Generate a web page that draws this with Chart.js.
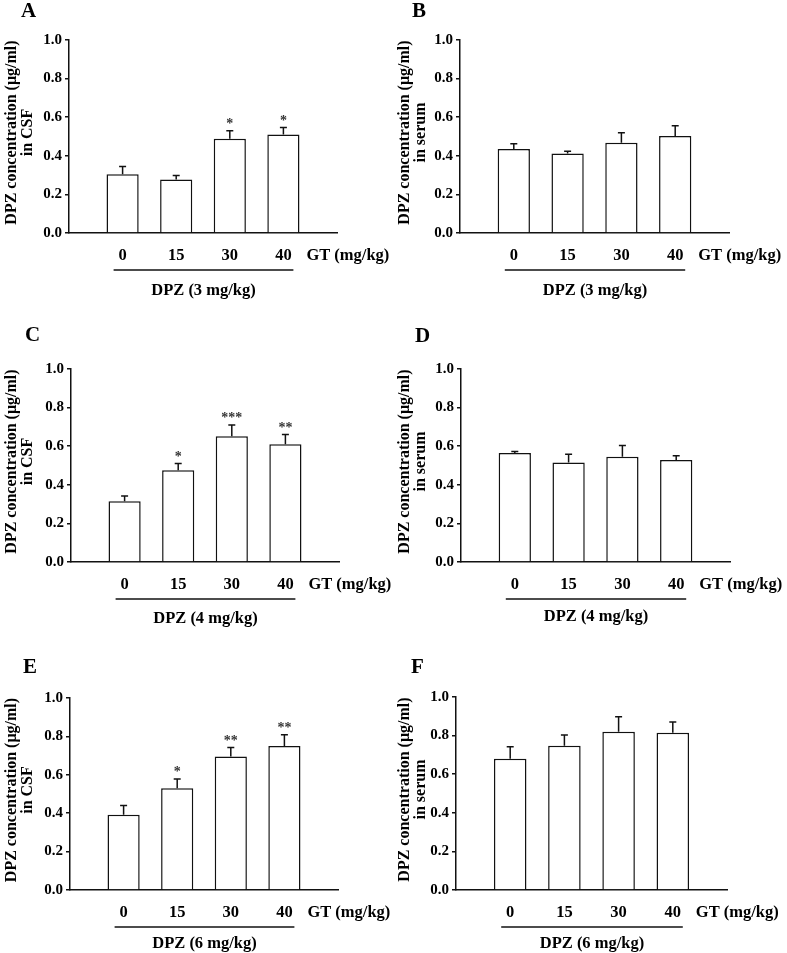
<!DOCTYPE html>
<html>
<head>
<meta charset="utf-8">
<title>DPZ concentration</title>
<script src="https://cdn.jsdelivr.net/npm/chart.js@4.4.1/dist/chart.umd.min.js"></script>
<style>
  body { margin: 0; background: #fff; }
  #fig { position: relative; width: 787px; height: 953px; overflow: hidden; }
  #fig canvas { position: absolute; }
</style>
</head>
<body>
<div id="fig">
  <canvas id="cA" width="393" height="310" style="left:0;top:0"></canvas>
  <canvas id="cB" width="394" height="310" style="left:393px;top:0"></canvas>
  <canvas id="cC" width="393" height="320" style="left:0;top:310px"></canvas>
  <canvas id="cD" width="394" height="320" style="left:393px;top:310px"></canvas>
  <canvas id="cE" width="393" height="323" style="left:0;top:630px"></canvas>
  <canvas id="cF" width="394" height="323" style="left:393px;top:630px"></canvas>
</div>
<script>
// Datos (media + error, µg/ml)
const gtDoses = ['0', '15', '30', '40'];
const yTicks = [0, 0.2, 0.4, 0.6, 0.8, 1.0];

const csf3 = [0.305, 0.277, 0.488, 0.511];
const csf3Err = [0.040, 0.021, 0.042, 0.035];
const csf3Stars = ['', '', '*', '*'];

const serum3 = [0.435, 0.412, 0.468, 0.502];
const serum3Err = [0.027, 0.011, 0.052, 0.054];

const csf4 = [0.315, 0.475, 0.652, 0.610];
const csf4Err = [0.027, 0.035, 0.058, 0.050];
const csf4Stars = ['', '*', '***', '**'];

const serum4 = [0.565, 0.515, 0.545, 0.528];
const serum4Err = [0.007, 0.043, 0.059, 0.022];

const csf6 = [0.392, 0.530, 0.695, 0.750];
const csf6Err = [0.048, 0.048, 0.047, 0.058];
const csf6Stars = ['', '*', '**', '**'];

const serum6 = [0.680, 0.748, 0.820, 0.815];
const serum6Err = [0.062, 0.055, 0.078, 0.055];

const noStars = ['', '', '', ''];

const FONT = '"Liberation Serif", "Times New Roman", serif';
const INK = '#111';

// Paneles: datos + caja del área de dibujo (en px del canvas)
const panels = [
  { id: 'cA', letter: 'A', letterPos: [21, 17], values: csf3, errors: csf3Err, stars: csf3Stars,
    fluid: 'in CSF', dose: 'DPZ (3 mg/kg)', doseGap: 58, area: { left: 69, right: 337, top: 40, bottom: 233 } },
  { id: 'cB', letter: 'B', letterPos: [19, 17], values: serum3, errors: serum3Err, stars: noStars,
    fluid: 'in serum', dose: 'DPZ (3 mg/kg)', doseGap: 58, area: { left: 67, right: 336, top: 40, bottom: 233 } },
  { id: 'cC', letter: 'C', letterPos: [25, 31], values: csf4, errors: csf4Err, stars: csf4Stars,
    fluid: 'in CSF', dose: 'DPZ (4 mg/kg)', doseGap: 57, area: { left: 71, right: 339, top: 59, bottom: 252 } },
  { id: 'cD', letter: 'D', letterPos: [22, 32], values: serum4, errors: serum4Err, stars: noStars,
    fluid: 'in serum', dose: 'DPZ (4 mg/kg)', doseGap: 55, area: { left: 68, right: 337, top: 59, bottom: 252 } },
  { id: 'cE', letter: 'E', letterPos: [23, 43], values: csf6, errors: csf6Err, stars: csf6Stars,
    fluid: 'in CSF', dose: 'DPZ (6 mg/kg)', doseGap: 54, area: { left: 70, right: 338, top: 68, bottom: 260 } },
  { id: 'cF', letter: 'F', letterPos: [18, 43], values: serum6, errors: serum6Err, stars: noStars,
    fluid: 'in serum', dose: 'DPZ (6 mg/kg)', doseGap: 54, area: { left: 63, right: 334, top: 67, bottom: 260 } }
];

// Plugin: barras de error, asteriscos, títulos y rótulos de grupo
const decoPlugin = {
  id: 'deco',
  afterDatasetsDraw(chart, args, opts) {
    const ctx = chart.ctx;
    const meta = chart.getDatasetMeta(0);
    const yScale = chart.scales.y;
    const values = chart.data.datasets[0].data;
    ctx.save();
    ctx.strokeStyle = INK;
    ctx.lineWidth = 1.5;
    ctx.fillStyle = '#333';
    ctx.font = 'bold 14px ' + FONT;
    ctx.textAlign = 'center';
    ctx.textBaseline = 'alphabetic';
    meta.data.forEach((bar, i) => {
      const err = opts.errors[i];
      if (values[i] == null || err == null) return;
      const top = yScale.getPixelForValue(values[i] + err);
      ctx.beginPath();
      ctx.moveTo(bar.x, bar.y);
      ctx.lineTo(bar.x, top);
      ctx.moveTo(bar.x - 3.5, top);
      ctx.lineTo(bar.x + 3.5, top);
      ctx.stroke();
      if (opts.stars[i]) {
        ctx.fillText(opts.stars[i], bar.x, top - 3);
      }
    });
    ctx.restore();
  },
  afterDraw(chart, args, opts) {
    const ctx = chart.ctx;
    const area = chart.chartArea;
    const xScale = chart.scales.x;
    const first = xScale.getPixelForValue(1);
    const last = xScale.getPixelForValue(gtDoses.length);
    ctx.save();
    ctx.fillStyle = '#000';
    ctx.strokeStyle = INK;

    // letra del panel
    ctx.font = 'bold 21px ' + FONT;
    ctx.textAlign = 'left';
    ctx.textBaseline = 'alphabetic';
    ctx.fillText(opts.letter, opts.letterPos[0], opts.letterPos[1]);

    // título del eje y (dos líneas, rotado)
    const cy = (area.top + area.bottom) / 2 - 4;
    ctx.font = 'bold 16px ' + FONT;
    ctx.textAlign = 'center';
    ctx.textBaseline = 'middle';
    [['DPZ concentration (µg/ml)', 12], [opts.fluid, 28]].forEach(([txt, x]) => {
      ctx.save();
      ctx.translate(x, cy);
      ctx.rotate(-Math.PI / 2);
      ctx.fillText(txt, 0, 0);
      ctx.restore();
    });

    // GT (mg/kg) a la derecha de los rótulos
    ctx.font = 'bold 16.5px ' + FONT;
    ctx.textAlign = 'left';
    ctx.fillText('GT (mg/kg)', last + 23, area.bottom + 23);

    // línea de grupo y dosis de DPZ
    const x0 = first - 9, x1 = last + 10;
    ctx.lineWidth = 1.3;
    ctx.beginPath();
    ctx.moveTo(x0, area.bottom + 37);
    ctx.lineTo(x1, area.bottom + 37);
    ctx.stroke();
    ctx.textAlign = 'center';
    ctx.fillText(opts.dose, (x0 + x1) / 2, area.bottom + opts.doseGap);
    ctx.restore();
  }
};

function buildChart(p) {
  const canvas = document.getElementById(p.id);
  const W = canvas.width, H = canvas.height;
  const a = p.area;
  const labels = ['', ...gtDoses, ''];
  const pad = arr => [null, ...arr, null];

  return new Chart(canvas.getContext('2d'), {
    type: 'bar',
    data: {
      labels: labels,
      datasets: [{
        data: pad(p.values),
        backgroundColor: '#ffffff',
        borderColor: INK,
        borderWidth: 1.5,
        barPercentage: 0.6,
        categoryPercentage: 1
      }]
    },
    plugins: [decoPlugin],
    options: {
      responsive: false,
      animation: false,
      layout: { padding: { left: 0, top: a.top, right: W - a.right, bottom: 0 } },
      plugins: {
        legend: { display: false },
        tooltip: { enabled: false },
        deco: {
          letter: p.letter,
          letterPos: p.letterPos,
          errors: pad(p.errors),
          stars: pad(p.stars),
          fluid: p.fluid,
          dose: p.dose,
          doseGap: p.doseGap
        }
      },
      scales: {
        x: {
          type: 'category',
          offset: false,
          grid: { display: false, drawTicks: false },
          border: { display: true, color: INK, width: 1.5 },
          ticks: {
            color: '#000',
            autoSkip: false,
            maxRotation: 0,
            padding: 13,
            font: { family: FONT, size: 16.5, weight: 'bold' }
          },
          afterFit: s => { s.height = H - a.bottom; }
        },
        y: {
          min: 0,
          max: 1,
          afterBuildTicks: s => { s.ticks = yTicks.map(v => ({ value: v })); },
          grid: { drawOnChartArea: false, drawTicks: true, tickLength: 4, color: INK, lineWidth: 1.5 },
          border: { display: true, color: INK, width: 1.5 },
          ticks: {
            color: '#000',
            padding: 3,
            font: { family: FONT, size: 15, weight: 'bold' },
            callback: v => Number(v).toFixed(1)
          },
          afterFit: s => { s.width = a.left; }
        }
      }
    }
  });
}

panels.forEach(buildChart);
</script>
</body>
</html>
